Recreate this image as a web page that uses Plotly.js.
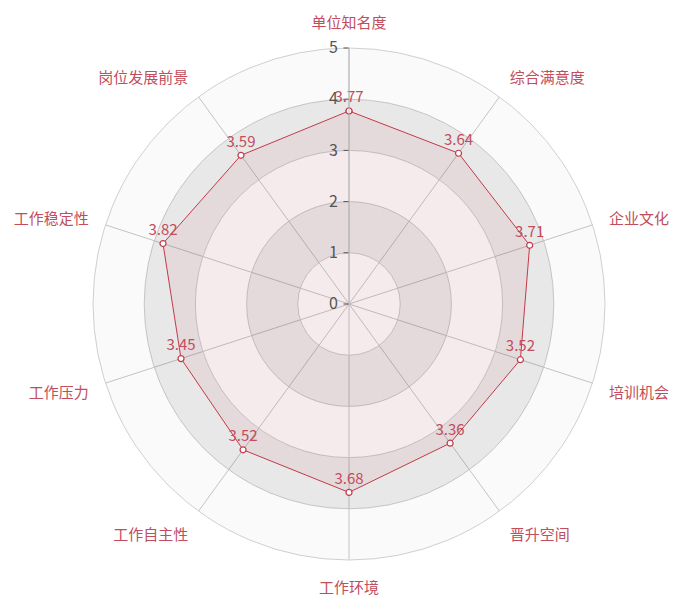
<!DOCTYPE html>
<html>
<head>
<meta charset="utf-8">
<script src="https://cdn.plot.ly/plotly-3.0.1.min.js"></script>
<style>
  html, body { margin: 0; padding: 0; background: #fff; }
  #chart { width: 676px; height: 597px; }
</style>
</head>
<body>
<div id="chart"></div>
<script>
// 满意度各维度得分
var dims = ['单位知名度', '综合满意度', '企业文化', '培训机会', '晋升空间',
            '工作环境', '工作自主性', '工作压力', '工作稳定性', '岗位发展前景'];
var scores = [3.77, 3.64, 3.71, 3.52, 3.36, 3.68, 3.52, 3.45, 3.82, 3.59];

// background rings (0-1, 1-2, ... 4-5)
var ringSteps = [1, 1, 1, 1, 1];
var ringColors = ['rgba(0,0,0,0.02)', 'rgba(0,0,0,0.09)', 'rgba(0,0,0,0.02)',
                  'rgba(0,0,0,0.09)', 'rgba(0,0,0,0.02)'];

var lineRed = '#c23a4a';
var textRed = '#c24d5b';
var cjk = '"Noto Sans CJK SC", "Microsoft YaHei", sans-serif';

var data = [];
ringSteps.forEach(function (step, i) {
  data.push({
    type: 'barpolar',
    theta: dims,
    r: dims.map(function () { return step; }),
    marker: { color: ringColors[i], line: { width: 0 } },
    hoverinfo: 'skip',
    showlegend: false
  });
});

data.push({
  type: 'scatterpolar',
  theta: dims.concat([dims[0]]),
  r: scores.concat([scores[0]]),
  text: scores.map(function (v) { return v.toFixed(2); }).concat(['']),
  mode: 'lines+markers+text',
  textposition: 'top center',
  textfont: { family: cjk, size: 15, color: textRed },
  fill: 'toself',
  fillcolor: 'rgba(194,58,74,0.08)',
  line: { color: lineRed, width: 1 },
  marker: { size: 6, color: '#fff', line: { color: lineRed, width: 1.2 } },
  showlegend: false
});

var layout = {
  width: 676,
  height: 597,
  margin: { l: 93, r: 71, t: 48, b: 37 },
  paper_bgcolor: '#fff',
  showlegend: false,
  polar: {
    bgcolor: '#fff',
    domain: { x: [0, 1], y: [0, 1] },
    barmode: 'stack',
    bargap: 0,
    radialaxis: {
      range: [0, 5],
      dtick: 1,
      angle: 90,
      side: 'counterclockwise',
      showline: true,
      linecolor: '#bbb',
      linewidth: 1,
      gridcolor: '#d2d2d2',
      ticks: 'outside',
      ticklen: 5,
      tickcolor: '#555',
      tickangle: 90,
      tickfont: { family: cjk, size: 16, color: '#555' }
    },
    angularaxis: {
      rotation: 90,
      direction: 'clockwise',
      showline: true,
      linecolor: '#cfcfcf',
      gridcolor: '#c8c8c8',
      ticks: 'outside',
      ticklen: 14,
      tickcolor: 'rgba(0,0,0,0)',
      tickfont: { family: cjk, size: 15, color: textRed }
    }
  }
};

Plotly.newPlot('chart', data, layout, { displayModeBar: false });
</script>
</body>
</html>
